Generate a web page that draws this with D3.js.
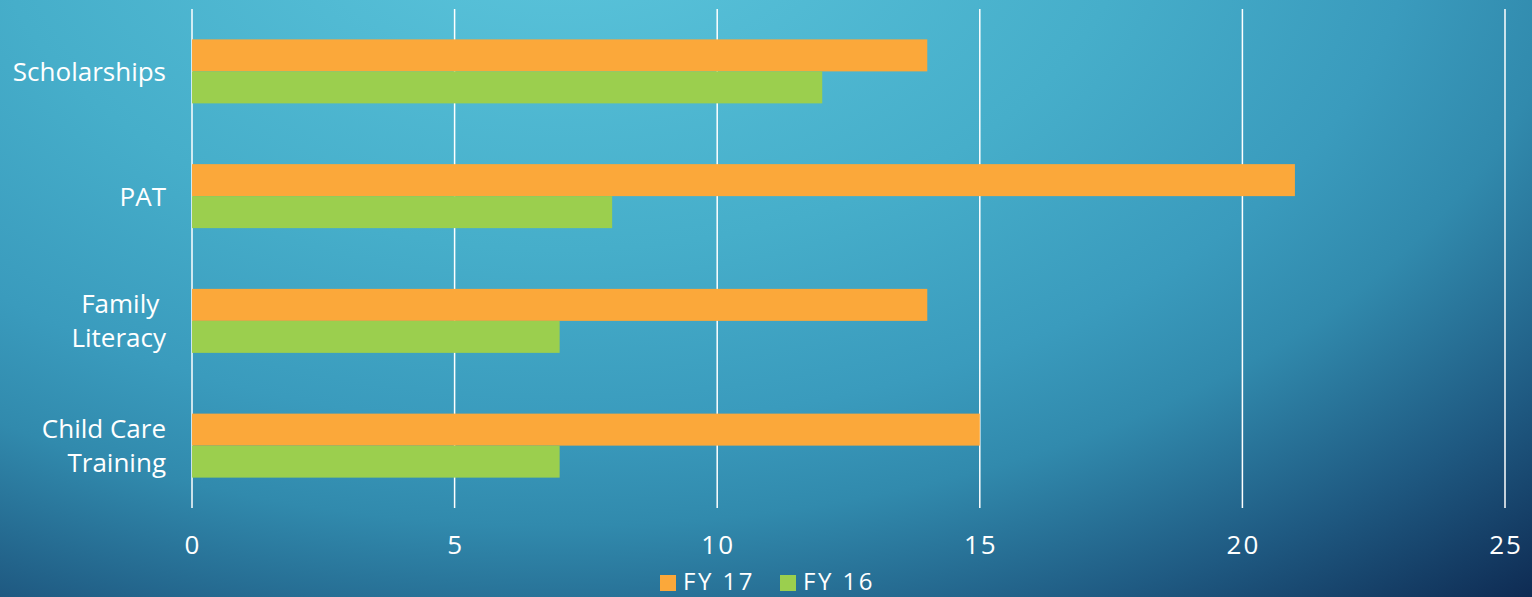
<!DOCTYPE html>
<html>
<head>
<meta charset="utf-8">
<script src="https://cdn.jsdelivr.net/npm/d3@7"></script>
<style>
  html, body { margin: 0; padding: 0; overflow: hidden; }
  svg { display: block; }
</style>
</head>
<body>
<script>
const width = 1532;
const height = 597;

// data
const categories = ['Scholarships', 'PAT', 'Family Literacy', 'Child Care Training'];
const categoryLines = [['Scholarships'], ['PAT'], ['Family\u00a0', 'Literacy'], ['Child Care', 'Training']];
const seriesNames = ['FY 17', 'FY 16'];
const fy17 = [14, 21, 14, 15];
const fy16 = [12, 8, 7, 7];
const xTicks = [0, 5, 10, 15, 20, 25];

const colors = { 'FY 17': '#fba83a', 'FY 16': '#9bcf4e' };
const font = "'Open Sans', 'Noto Sans', sans-serif";

const svg = d3.select('body')
  .append('svg')
  .attr('width', width)
  .attr('height', height);

// background gradient (light spot top centre, dark navy bottom right)
const defs = svg.append('defs');
const grad = defs.append('radialGradient')
  .attr('id', 'bg')
  .attr('gradientUnits', 'userSpaceOnUse')
  .attr('cx', 0).attr('cy', 0).attr('r', 1)
  .attr('gradientTransform', 'translate(560,-100) scale(1500,920)');
[[0, '#5dc7dd'], [0.38, '#46aeca'], [0.57, '#3a9bbd'], [0.68, '#318aad'],
 [0.84, '#1f5a82'], [1, '#0e2a52']].forEach(s => {
  grad.append('stop').attr('offset', s[0]).attr('stop-color', s[1]);
});
svg.append('rect')
  .attr('width', width).attr('height', height)
  .attr('fill', 'url(#bg)');

const margin = { left: 192, right: 27, top: 9, bottom: 89 };

const x = d3.scaleLinear()
  .domain([0, 25])
  .range([margin.left, width - margin.right]);

const y = d3.scaleBand()
  .domain(categories)
  .range([margin.top, height - margin.bottom])
  .paddingInner(0.487)
  .paddingOuter(0.2435);

const ySub = d3.scaleBand()
  .domain(seriesNames)
  .range([0, y.bandwidth()]);

// gridlines
svg.append('g')
  .selectAll('line').data(xTicks)
  .enter().append('line')
    .attr('x1', d => x(d)).attr('x2', d => x(d))
    .attr('y1', margin.top).attr('y2', height - margin.bottom)
    .attr('stroke', '#fff')
    .attr('stroke-width', 1.5);

// bars
const rows = categories.map((c, i) => ({ cat: c, 'FY 17': fy17[i], 'FY 16': fy16[i] }));
const groups = svg.append('g')
  .selectAll('g').data(rows)
  .enter().append('g')
    .attr('transform', d => 'translate(0,' + y(d.cat) + ')');

groups.selectAll('rect')
  .data(d => seriesNames.map(s => ({ key: s, value: d[s] })))
  .enter().append('rect')
    .attr('x', x(0))
    .attr('y', d => ySub(d.key))
    .attr('width', d => x(d.value) - x(0))
    .attr('height', ySub.bandwidth())
    .attr('fill', d => colors[d.key]);

// x tick labels
svg.append('g')
  .selectAll('text').data(xTicks)
  .enter().append('text')
    .attr('x', d => x(d) + 1)
    .attr('y', 554)
    .attr('text-anchor', 'middle')
    .attr('fill', '#fff')
    .style('font-family', font)
    .style('font-size', '26px')
    .style('letter-spacing', '2px')
    .text(d => d);

// category labels
const labels = svg.append('g')
  .selectAll('text').data(categories)
  .enter().append('text')
    .attr('text-anchor', 'end')
    .attr('fill', '#fff')
    .style('font-family', font)
    .style('font-size', '26px');

labels.each(function(d, i) {
  const lines = categoryLines[i];
  const cy = y(d) + y.bandwidth() / 2;
  const first = lines.length === 1 ? cy + 10 : cy - 8;
  lines.forEach((t, j) => {
    d3.select(this).append('tspan')
      .attr('x', 166)
      .attr('y', first + j * 34)
      .text(t);
  });
});

// legend
const legendX = [660, 780];
const legend = svg.append('g')
  .selectAll('g').data(seriesNames)
  .enter().append('g')
    .attr('transform', (d, i) => 'translate(' + legendX[i] + ',575)');

legend.append('rect')
  .attr('width', 16).attr('height', 16)
  .attr('fill', d => colors[d]);

legend.append('text')
  .attr('x', 23).attr('y', 15)
  .attr('fill', '#fff')
  .style('font-family', font)
  .style('font-size', '24px')
  .style('letter-spacing', '2.5px')
  .text(d => d);
</script>
</body>
</html>
